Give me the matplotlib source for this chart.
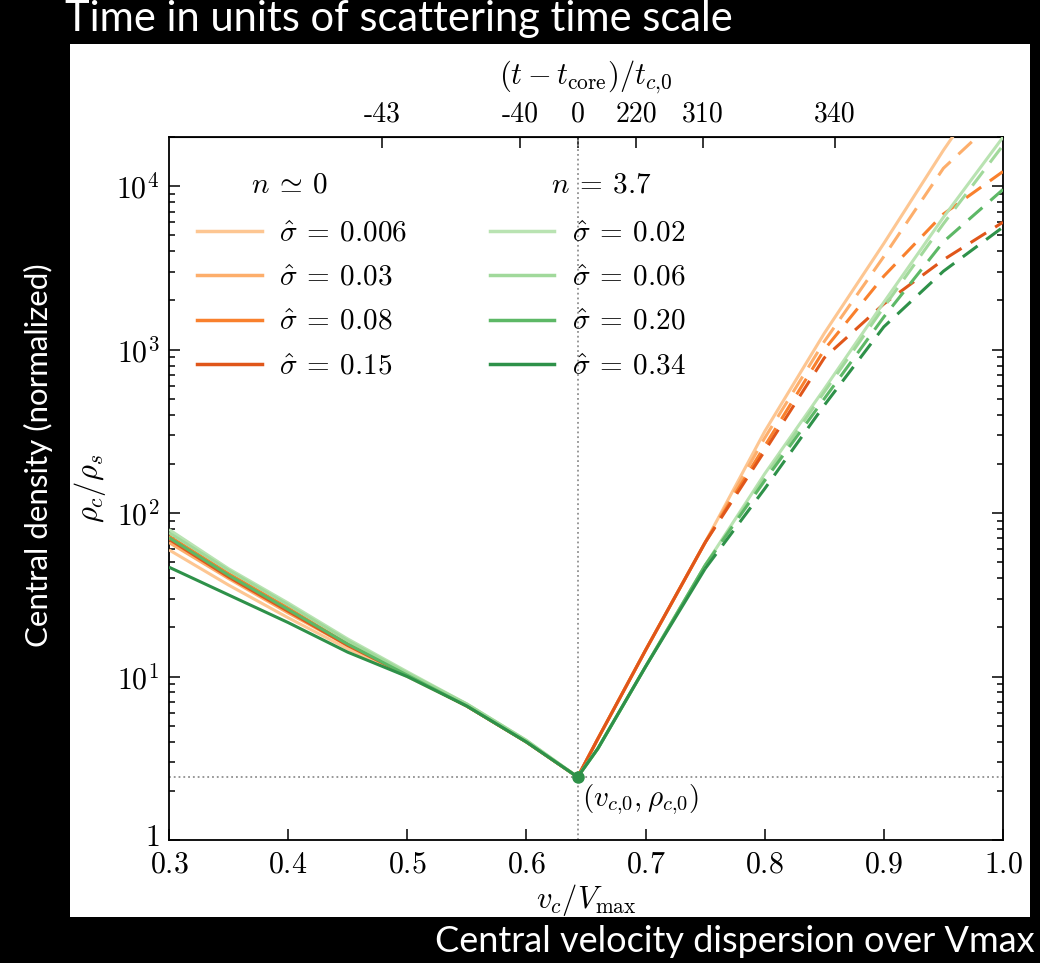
import numpy as np
import matplotlib.pyplot as plt
import matplotlib.transforms as mtransforms
from matplotlib.lines import Line2D
from matplotlib.patches import Rectangle

plt.rcParams['mathtext.fontset'] = 'cm'
plt.rcParams['axes.unicode_minus'] = False

# gravothermal tracks: central density vs central velocity dispersion
v_core = 0.643
rho_core = 2.43

v_left = [0.30, 0.35, 0.40, 0.45, 0.50, 0.55, 0.60, 0.643]
v_right = [0.643, 0.66, 0.70, 0.75, 0.80, 0.85, 0.90, 0.95, 1.00]

# n ~ 0
sig_n0 = ['0.006', '0.03', '0.08', '0.15']
col_n0 = ['#fdc692', '#fdae6b', '#f9802d', '#e0561a']
solid_end_n0 = [1.00, 0.75, 0.75, 0.75]
left_n0 = [
    [59.6, 36.3, 22.9, 14.8, 10.0, 6.6, 3.98, 2.43],
    [66.1, 39.8, 24.5, 15.5, 10.2, 6.6, 3.98, 2.43],
    [72.4, 42.7, 26.3, 15.8, 10.2, 6.6, 3.98, 2.43],
    [69.2, 40.7, 25.1, 15.5, 10.2, 6.6, 3.98, 2.43],
]
right_n0 = [
    [2.43, 4.17, 14.5, 66.1, 316, 1259, 4467, 16600, 56200],
    [2.43, 4.17, 14.5, 66.1, 288, 1122, 3715, 12880, 28180],
    [2.43, 4.17, 14.5, 66.1, 257, 1000, 2818, 6761, 12300],
    [2.43, 4.17, 14.5, 66.1, 240, 891, 1905, 3548, 6026],
]

# n = 3.7
sig_n37 = ['0.02', '0.06', '0.20', '0.34']
col_n37 = ['#b9e3b2', '#a1d99b', '#5db866', '#2e9149']
solid_end_n37 = [1.00, 0.75, 0.75, 0.75]
left_n37 = [
    [79.4, 45.7, 28.2, 17.0, 10.7, 6.8, 4.07, 2.43],
    [75.9, 44.7, 27.5, 16.6, 10.5, 6.8, 4.07, 2.43],
    [70.8, 41.7, 25.7, 15.8, 10.2, 6.6, 3.98, 2.43],
    [46.7, 31.6, 21.4, 14.1, 10.0, 6.6, 3.98, 2.43],
]
right_n37 = [
    [2.43, 3.63, 11.5, 47.9, 174, 575, 1950, 6457, 19950],
    [2.43, 3.63, 11.5, 47.9, 166, 550, 1820, 5890, 17780],
    [2.43, 3.63, 11.5, 47.9, 158, 501, 1585, 4571, 9550],
    [2.43, 3.63, 11.5, 45.7, 141, 457, 1380, 3020, 5620],
]

# top axis: time since core formation
t_pos = [0.479, 0.5945, 0.643, 0.692, 0.748, 0.859]
t_labels = ['-43', '-40', '0', '220', '310', '340']

x_ticks = [0.3, 0.4, 0.5, 0.6, 0.7, 0.8, 0.9, 1.0]
y_ticks = [1, 10, 100, 1000, 10000]
y_labels = [r'$1$', r'$10^1$', r'$10^2$', r'$10^3$', r'$10^4$']

fig = plt.figure(figsize=(10.4, 9.63), dpi=100, facecolor='black')
fig.patches.append(Rectangle((0.0673, 0.0478), 0.923, 0.9065, transform=fig.transFigure,
                             facecolor='white', edgecolor='none', zorder=-5))
ax = fig.add_axes([0.1625, 0.1277, 0.8019, 0.7300])
ax.set_zorder(2)

ax.axvline(v_core, color='#909090', ls=':', lw=1.3, zorder=1)
ax.axhline(rho_core, color='#909090', ls=':', lw=1.3, zorder=1)


def draw_track(left, right, solid_end, color):
    v = np.array(v_left[:-1] + v_right)
    rho = np.array(left[:-1] + right)
    solid = v <= solid_end + 1e-9
    ax.plot(v[solid], rho[solid], color=color, lw=2.2, solid_capstyle='butt', zorder=3)
    dashed = v >= solid_end - 1e-9
    if dashed.sum() > 1 and solid_end < 1.0:
        ax.plot(v[dashed], rho[dashed], color=color, lw=2.2, dashes=(6, 3.5), zorder=3)


for left, right, end, c in zip(left_n0, right_n0, solid_end_n0, col_n0):
    draw_track(left, right, end, c)
for left, right, end, c in zip(left_n37, right_n37, solid_end_n37, col_n37):
    draw_track(left, right, end, c)

ax.plot([v_core], [rho_core], 'o', color='#2e9149', ms=8, zorder=4)
ax.text(v_core + 0.004, 1.76, r'$(v_{c{,}0}, \rho_{c{,}0})$', fontsize=21, va='center', ha='left')

ax.set_yscale('log')
ax.set_xlim(0.3, 1.0)
ax.set_ylim(1, 2e4)
ax.set_xticks(x_ticks, labels=[rf'${t:.1f}$' for t in x_ticks])
ax.set_yticks(y_ticks, labels=y_labels)
ax.tick_params(which='both', direction='in', top=False, right=True, width=1.1)
ax.tick_params(which='major', length=8, labelsize=21.5, pad=7)
ax.tick_params(which='minor', length=4)
for s in ax.spines.values():
    s.set_linewidth(1.3)

# lift the "1" label a little so it sits above the 0.3
lab1 = ax.get_yticklabels()[0]
lab1.set_transform(lab1.get_transform() + mtransforms.ScaledTranslation(0, 4 / 72, fig.dpi_scale_trans))

ax.set_xlabel(r'$v_c/V_{\max}$', fontsize=22, labelpad=2)
ax.set_ylabel(r'$\rho_c/\rho_s$', fontsize=22, labelpad=6)

top = ax.secondary_xaxis('top')
top.set_xticks(t_pos, labels=t_labels)
top.tick_params(direction='in', length=8, width=1.1, labelsize=20, pad=7)
for lab in top.get_xticklabels():
    lab.set_family('cmr10')
top.set_xlabel(r'$(t - t_{\rm core})/t_{c{,}0}$', fontsize=22, labelpad=12)

# two legend columns, each with its own header
h_n0 = [Line2D([], [], color=c, lw=2.5, label=rf'$\hat{{\sigma}}\:=\:{s}$') for c, s in zip(col_n0, sig_n0)]
h_n37 = [Line2D([], [], color=c, lw=2.5, label=rf'$\hat{{\sigma}}\:=\:{s}$') for c, s in zip(col_n37, sig_n37)]
leg_kw = dict(loc='upper left', frameon=False, fontsize=21, handlelength=2.2,
              handletextpad=0.6, labelspacing=0.56, borderpad=0, borderaxespad=0)
leg1 = ax.legend(handles=h_n0, bbox_to_anchor=(0.034, 0.883), **leg_kw)
ax.add_artist(leg1)
ax.legend(handles=h_n37, bbox_to_anchor=(0.385, 0.883), **leg_kw)
ax.text(0.145, 0.932, r'$n\:\simeq\:0$', transform=ax.transAxes, fontsize=21, ha='center', va='center')
ax.text(0.518, 0.932, r'$n\:=\:3.7$', transform=ax.transAxes, fontsize=21, ha='center', va='center')

fig.text(0.0625, 0.968, 'Time in units of scattering time scale', color='white', fontsize=30,
         family='Lato', ha='left', va='baseline')
fig.text(0.0365, 0.5275, 'Central density (normalized)', color='white', fontsize=22.5,
         family='Lato', rotation=90, ha='center', va='center')
fig.text(0.995, 0.0114, 'Central velocity dispersion over Vmax', color='white', fontsize=26,
         family='Lato', ha='right', va='baseline')

fig.savefig('out.png', dpi=100, facecolor='black')
